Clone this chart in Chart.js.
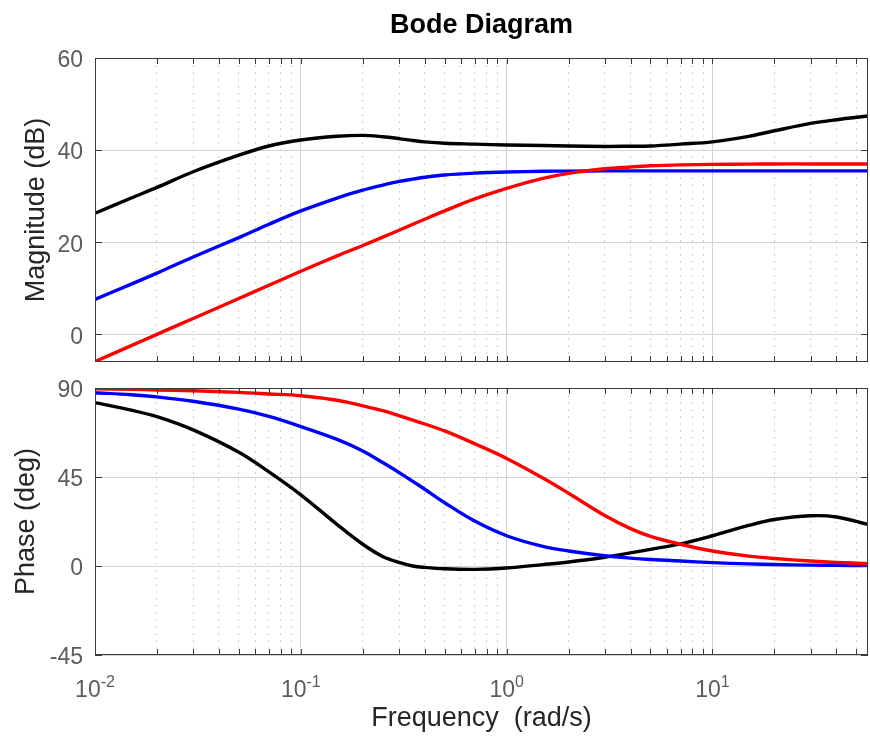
<!DOCTYPE html>
<html>
<head>
<meta charset="utf-8">
<script src="https://cdn.jsdelivr.net/npm/chart.js@4.4.1/dist/chart.umd.min.js"></script>
<style>
  html, body { margin: 0; padding: 0; background: #fff; }
  #wrap { position: relative; width: 870px; height: 740px; }
  #wrap canvas { position: absolute; left: 0; top: 0; }
</style>
</head>
<body>
<div id="wrap">
  <canvas id="magChart" width="870" height="740"></canvas>
  <canvas id="phaseChart" width="870" height="740"></canvas>
</div>
<script>
// frequencies (rad/s) the curves were read at
const freq = [0.01, 0.015, 0.02, 0.03, 0.05, 0.07, 0.1, 0.15, 0.2, 0.25, 0.3, 0.35, 0.4, 0.5, 0.7,
              1, 1.5, 2, 3, 4, 5, 7, 10, 15, 20, 30, 40, 57];

// magnitude (dB)
const magBlack = [26.3, 29.6, 31.9, 35.3, 38.9, 40.9, 42.2, 43.0, 43.2, 42.9, 42.5, 42.1, 41.8, 41.5, 41.3,
                  41.1, 41.0, 40.9, 40.8, 40.85, 40.9, 41.3, 41.8, 43.0, 44.2, 45.8, 46.6, 47.4];
const magBlue  = [7.6, 10.9, 13.3, 16.8, 21.0, 23.9, 26.8, 29.6, 31.3, 32.4, 33.2, 33.7, 34.1, 34.6, 35.0,
                  35.25, 35.4, 35.45, 35.5, 35.5, 35.5, 35.5, 35.5, 35.5, 35.5, 35.5, 35.5, 35.5];
const magRed   = [-5.9, -2.45, 0.0, 3.45, 7.8, 10.65, 13.7, 17.05, 19.3, 21.1, 22.6, 23.9, 25.0, 26.8, 29.4,
                  31.7, 33.85, 34.95, 35.95, 36.35, 36.6, 36.8, 36.9, 36.95, 37.0, 37.0, 37.0, 37.0];

// phase (deg)
const phBlack = [82.6, 78.8, 75.5, 68.8, 57.5, 47.6, 36.0, 21.0, 11.0, 4.8, 1.8, 0.0, -0.7, -1.4, -1.7,
                 -1.0, 0.7, 2.0, 4.4, 6.6, 8.4, 11.2, 15.3, 20.5, 23.5, 25.4, 24.8, 21.0];
const phBlue  = [87.6, 86.6, 85.5, 83.3, 79.3, 75.6, 70.5, 64.0, 58.2, 52.3, 47.3, 42.8, 38.8, 32.0, 22.7,
                 15.3, 9.9, 7.6, 5.2, 4.0, 3.3, 2.5, 1.7, 1.05, 0.75, 0.45, 0.32, 0.2];
const phRed   = [89.6, 89.3, 89.0, 88.6, 87.8, 87.0, 86.1, 83.8, 81.0, 78.6, 76.0, 73.8, 71.8, 68.3, 61.8,
                 54.4, 44.5, 36.8, 25.5, 18.9, 15.0, 11.0, 7.6, 5.0, 3.8, 2.5, 1.8, 1.2];

const xMin = 0.01, xMax = 57;
const xDecades = [0.01, 0.1, 1, 10];
const xExponents = ["-2", "-1", "0", "1"];
const magTicks = [0, 20, 40, 60];
const phaseTicks = [-45, 0, 45, 90];

const FONT = "'Liberation Sans', Arial, Helvetica, sans-serif";
const tickColor = "#5c5c5c";
const labelColor = "#262626";

function logTicks() {
  const out = [];
  xDecades.forEach(d => {
    for (let m = 1; m <= 9; m++) {
      const v = +(d * m).toPrecision(6);
      if (v >= xMin && v <= xMax) out.push({ value: v, major: m === 1 });
    }
  });
  return out;
}

function series(vals, color) {
  return {
    data: freq.map((f, i) => ({ x: f, y: vals[i] })),
    borderColor: color,
    borderWidth: 3.4,
    pointRadius: 0,
    tension: 0.35,
    fill: false
  };
}

// matlab style box + inward tick marks
const boxPlugin = {
  id: "matlabBox",
  afterDraw(chart) {
    const { ctx, chartArea: a, scales } = chart;
    ctx.save();
    ctx.strokeStyle = "#3a3a3a";
    ctx.lineWidth = 1;
    ctx.strokeRect(a.left + 0.5, a.top + 0.5, a.right - a.left - 1, a.bottom - a.top - 1);
    ctx.beginPath();
    scales.x.ticks.forEach(t => {
      const px = Math.round(scales.x.getPixelForValue(t.value)) + 0.5;
      ctx.moveTo(px, a.bottom);
      ctx.lineTo(px, a.bottom - 6);
      ctx.moveTo(px, a.top);
      ctx.lineTo(px, a.top + 6);
    });
    scales.y.ticks.forEach(t => {
      const py = Math.round(scales.y.getPixelForValue(t.value)) + 0.5;
      ctx.moveTo(a.left, py);
      ctx.lineTo(a.left + 7, py);
      ctx.moveTo(a.right, py);
      ctx.lineTo(a.right - 7, py);
    });
    ctx.stroke();
    ctx.restore();
  }
};

// 10^n labels under the phase plot
const decadeLabels = {
  id: "decadeLabels",
  afterDraw(chart) {
    const { ctx, chartArea: a, scales: { x } } = chart;
    ctx.save();
    ctx.fillStyle = tickColor;
    ctx.textAlign = "left";
    ctx.textBaseline = "alphabetic";
    xDecades.forEach((d, i) => {
      const px = x.getPixelForValue(d);
      ctx.font = "23px " + FONT;
      const w1 = ctx.measureText("10").width;
      ctx.font = "16px " + FONT;
      const w2 = ctx.measureText(xExponents[i]).width;
      const left = px - (w1 + w2) / 2;
      ctx.font = "23px " + FONT;
      ctx.fillText("10", left, a.bottom + 42);
      ctx.font = "16px " + FONT;
      ctx.fillText(xExponents[i], left + w1, a.bottom + 32);
    });
    ctx.restore();
  }
};

function xAxis(extra) {
  return Object.assign({
    type: "logarithmic",
    min: xMin,
    max: xMax,
    afterBuildTicks: s => { s.ticks = logTicks(); },
    ticks: { display: false },
    grid: {
      color: ctx => (ctx.tick && ctx.tick.major ? "#d4d4d4" : "#cfcfcf"),
      drawTicks: false
    },
    border: {
      display: false,
      dash: ctx => (ctx.tick && !ctx.tick.major ? [2, 5] : [])
    }
  }, extra);
}

function yAxis(min, max, tickVals, title, titlePad) {
  return {
    type: "linear",
    min: min,
    max: max,
    afterBuildTicks: s => { s.ticks = tickVals.map(v => ({ value: v })); },
    afterFit: s => { s.width = 95; },
    ticks: {
      font: { size: 23, family: FONT },
      color: tickColor,
      padding: 12,
      labelOffset: 3
    },
    grid: { color: "#d4d4d4", drawTicks: false },
    border: { display: false },
    title: {
      display: true,
      text: title,
      font: { size: 27, family: FONT },
      color: labelColor,
      padding: { top: titlePad, bottom: 0 }
    }
  };
}

new Chart(document.getElementById("magChart"), {
  type: "line",
  data: {
    datasets: [series(magRed, "#ff0000"), series(magBlue, "#0000ff"), series(magBlack, "#000000")]
  },
  options: {
    responsive: false,
    animation: false,
    layout: { padding: { top: 0, left: 0, right: 2, bottom: 378 } },
    scales: {
      x: xAxis({ afterFit: s => { s.height = 0; } }),
      y: yAxis(-6, 60, magTicks, "Magnitude (dB)", 20)
    },
    plugins: {
      legend: { display: false },
      tooltip: { enabled: false },
      title: {
        display: true,
        text: "Bode Diagram",
        fullSize: false,
        color: "#000",
        font: { size: 27, weight: "bold", family: FONT },
        padding: { top: 9, bottom: 16.6 }
      }
    }
  },
  plugins: [boxPlugin]
});

new Chart(document.getElementById("phaseChart"), {
  type: "line",
  data: {
    datasets: [series(phRed, "#ff0000"), series(phBlue, "#0000ff"), series(phBlack, "#000000")]
  },
  options: {
    responsive: false,
    animation: false,
    layout: { padding: { top: 388, left: 0, right: 2, bottom: 0 } },
    scales: {
      x: xAxis({
        afterFit: s => { s.height = 85; },
        title: {
          display: true,
          text: "Frequency  (rad/s)",
          font: { size: 27, family: FONT },
          color: labelColor,
          padding: { top: 0, bottom: 5 }
        }
      }),
      y: yAxis(-45, 90, phaseTicks, "Phase (deg)", 10)
    },
    plugins: {
      legend: { display: false },
      tooltip: { enabled: false }
    }
  },
  plugins: [boxPlugin, decadeLabels]
});
</script>
</body>
</html>
